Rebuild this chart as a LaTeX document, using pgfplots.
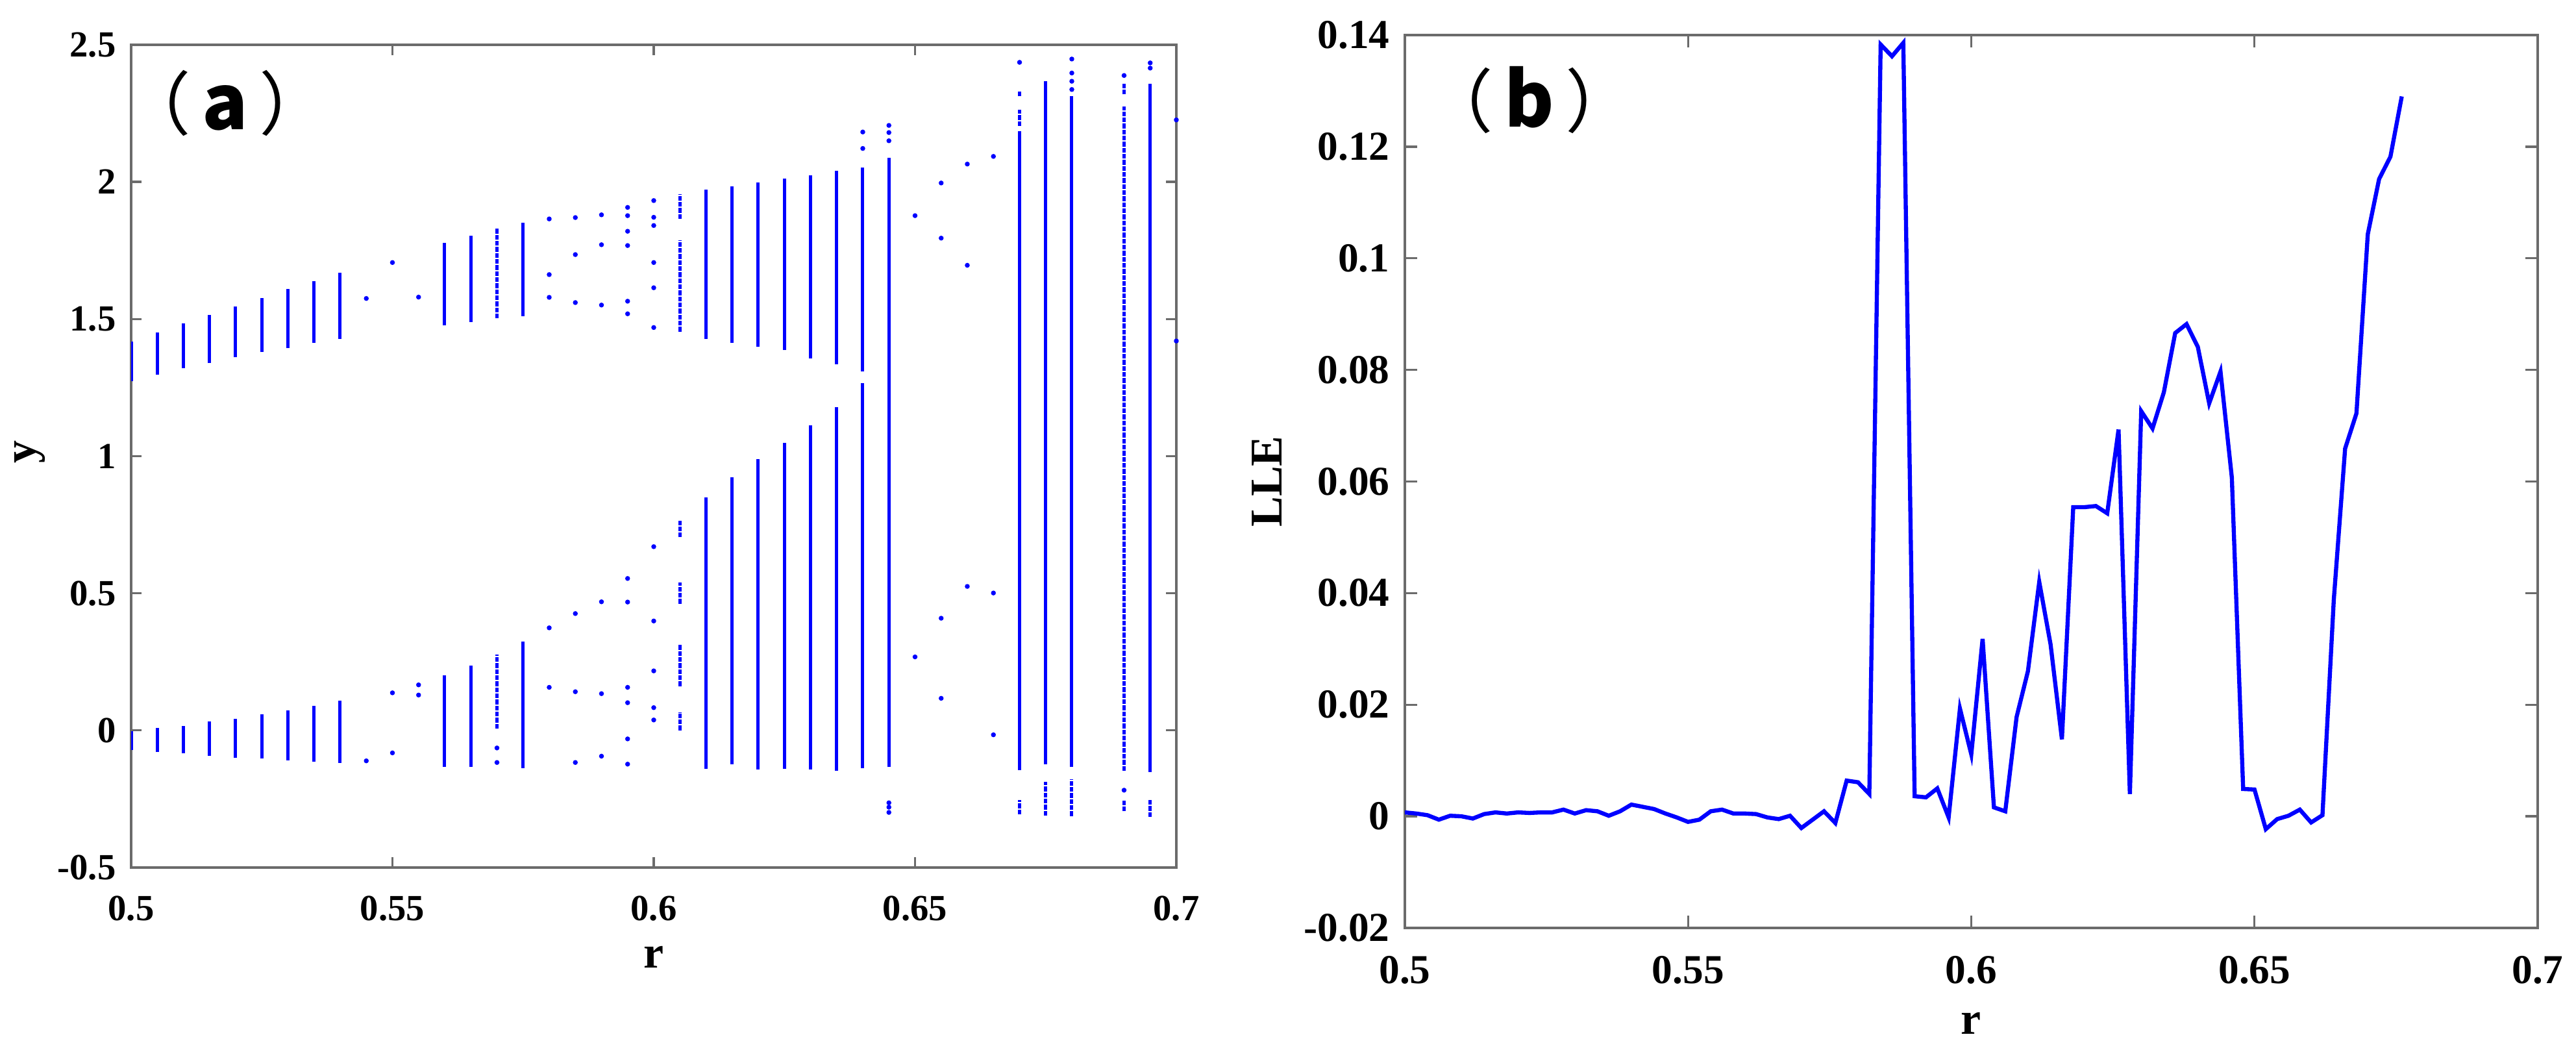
\documentclass[border=0pt]{standalone}
\usepackage{fontspec}
\setmainfont{Liberation Serif}
\newfontfamily\cjk{Noto Sans CJK SC}
\usepackage{pgfplots}
\pgfplotsset{compat=1.18}
\definecolor{axgray}{gray}{0.42}

% panel tag: thin full-width brackets round a heavy letter
\newcommand{\tag}[1]{{\cjk\fontsize{16}{18}\selectfont （}\hspace{2.6pt}%
  {\cjk\bfseries\fontsize{17.5}{18}\selectfont #1}\hspace{2.6pt}%
  {\cjk\fontsize{16}{18}\selectfont ）}}

\pgfplotsset{
  panel/.style={
    scale only axis,
    anchor=south west,
    axis line style={axgray, line width=0.6pt},
    tick style={axgray, line width=0.5pt},
    tick align=inside,
    xmin=0.5, xmax=0.7,
    xtick={0.5,0.55,0.6,0.65,0.7},
    xticklabels={0.5,0.55,0.6,0.65,0.7},
    scaled ticks=false,
    minor tick num=0,
    xticklabel style={yshift=-3pt},
    label style={font=\bfseries\fontsize{10.5}{12}\selectfont},
  }
}

\begin{document}
\begin{tikzpicture}
\path[use as bounding box] (0,0) rectangle (595.2pt,245.55pt);

% (a) bifurcation diagram
\begin{axis}[panel,
  at={(30.3pt,45.15pt)}, width=241.5pt, height=190.05pt,
  ymin=-0.5, ymax=2.5,
  ytick={-0.5,0,0.5,1,1.5,2,2.5},
  yticklabels={-0.5,0,0.5,1,1.5,2,2.5},
  major tick length=2.4pt,
  ticklabel style={font=\bfseries\fontsize{8.5}{10}\selectfont},
  xlabel={r}, ylabel={y},
  xlabel style={at={(axis description cs:0.5,-0.109)}, anchor=center},
  ylabel style={at={(axis description cs:-0.097,0.505)}, anchor=center},
]
% solid branches
\addplot[blue, line width=0.75pt, unbounded coords=jump] coordinates {
(0.5,1.273)(0.5,1.418)(0.5,nan)(0.5,-0.071)(0.5,-0.004)(0.5,nan)
(0.505,1.297)(0.505,1.450)(0.505,nan)(0.505,-0.079)(0.505,0.009)(0.505,nan)
(0.51,1.321)(0.51,1.483)(0.51,nan)(0.51,-0.084)(0.51,0.017)(0.51,nan)
(0.515,1.339)(0.515,1.515)(0.515,nan)(0.515,-0.092)(0.515,0.032)(0.515,nan)
(0.52,1.360)(0.52,1.546)(0.52,nan)(0.52,-0.099)(0.52,0.043)(0.52,nan)
(0.525,1.379)(0.525,1.577)(0.525,nan)(0.525,-0.103)(0.525,0.058)(0.525,nan)
(0.53,1.394)(0.53,1.609)(0.53,nan)(0.53,-0.109)(0.53,0.074)(0.53,nan)
(0.535,1.412)(0.535,1.638)(0.535,nan)(0.535,-0.113)(0.535,0.090)(0.535,nan)
(0.54,1.427)(0.54,1.668)(0.54,nan)(0.54,-0.118)(0.54,0.109)(0.54,nan)
(0.56,1.476)(0.56,1.778)(0.56,nan)(0.56,-0.133)(0.56,0.201)(0.56,nan)
(0.565,1.490)(0.565,1.804)(0.565,nan)(0.565,-0.134)(0.565,0.237)(0.565,nan)
(0.575,1.511)(0.575,1.852)(0.575,nan)(0.575,-0.137)(0.575,0.324)(0.575,nan)
(0.61,1.427)(0.61,1.972)(0.61,nan)(0.61,-0.141)(0.61,0.850)(0.61,nan)
(0.615,1.412)(0.615,1.984)(0.615,nan)(0.615,-0.123)(0.615,0.924)(0.615,nan)
(0.62,1.400)(0.62,1.998)(0.62,nan)(0.62,-0.143)(0.62,0.989)(0.62,nan)
(0.625,1.388)(0.625,2.013)(0.625,nan)(0.625,-0.141)(0.625,1.049)(0.625,nan)
(0.63,1.357)(0.63,2.025)(0.63,nan)(0.63,-0.143)(0.63,1.112)(0.63,nan)
(0.635,1.336)(0.635,2.040)(0.635,nan)(0.635,-0.147)(0.635,1.178)(0.635,nan)
(0.64,1.309)(0.64,2.053)(0.64,nan)(0.64,-0.138)(0.64,1.267)(0.64,nan)
(0.645,-0.134)(0.645,2.089)(0.645,nan)
(0.67,-0.145)(0.67,2.186)(0.67,nan)
(0.675,-0.123)(0.675,2.367)(0.675,nan)
(0.68,-0.134)(0.68,2.313)(0.68,nan)
(0.695,-0.151)(0.695,2.359)
};
% speckled branches
\addplot[blue, line width=0.75pt, dash pattern=on 1.1pt off 0.3pt, unbounded coords=jump] coordinates {
(0.57,1.502)(0.57,1.829)(0.57,nan)(0.57,0.007)(0.57,0.277)(0.57,nan)
(0.605,1.865)(0.605,1.956)(0.605,nan)(0.605,1.454)(0.605,1.787)(0.605,nan)
(0.605,0.704)(0.605,0.764)(0.605,nan)(0.605,0.462)(0.605,0.540)(0.605,nan)
(0.605,0.161)(0.605,0.315)(0.605,nan)(0.605,0.000)(0.605,0.067)(0.605,nan)
(0.67,2.204)(0.67,2.264)(0.67,nan)(0.67,2.312)(0.67,2.334)(0.67,nan)
(0.67,-0.306)(0.67,-0.255)(0.67,nan)
(0.675,-0.311)(0.675,-0.188)(0.675,nan)
(0.68,-0.312)(0.68,-0.177)(0.68,nan)
(0.69,-0.147)(0.69,2.274)(0.69,nan)(0.69,2.319)(0.69,2.361)(0.69,nan)
(0.69,-0.295)(0.69,-0.255)(0.69,nan)
(0.695,-0.315)(0.695,-0.251)
};
% isolated points
\addplot[only marks, mark=*, mark size=0.35pt, blue] coordinates {
(0.545,1.575)(0.545,-0.111)
(0.55,1.706)(0.55,0.137)(0.55,-0.082)
(0.555,1.58)(0.555,0.166)(0.555,0.129)
(0.57,-0.064)(0.57,-0.117)
(0.58,1.865)(0.58,1.662)(0.58,1.579)(0.58,0.374)(0.58,0.157)
(0.585,1.87)(0.585,1.735)(0.585,1.56)(0.585,0.426)(0.585,0.141)(0.585,-0.117)
(0.59,1.88)(0.59,1.771)(0.59,1.551)(0.59,0.469)(0.59,0.134)(0.59,-0.094)
(0.595,1.907)(0.595,1.877)(0.595,1.82)(0.595,1.768)(0.595,1.565)(0.595,1.519)
(0.595,0.554)(0.595,0.468)(0.595,0.157)(0.595,0.101)(0.595,-0.031)(0.595,-0.123)
(0.6,1.932)(0.6,1.871)(0.6,1.841)(0.6,1.706)(0.6,1.614)(0.6,1.469)
(0.6,0.67)(0.6,0.399)(0.6,0.217)(0.6,0.083)(0.6,0.038)
(0.64,2.182)(0.64,2.122)
(0.645,2.206)(0.645,2.18)(0.645,2.15)(0.645,-0.264)(0.645,-0.28)(0.645,-0.299)
(0.65,1.877)(0.65,0.268)
(0.655,1.996)(0.655,1.795)(0.655,0.409)(0.655,0.117)
(0.66,2.065)(0.66,1.696)(0.66,0.525)
(0.665,2.093)(0.665,0.501)(0.665,-0.016)
(0.67,2.436)
(0.68,2.448)(0.68,2.397)(0.68,2.367)(0.68,2.337)
(0.69,2.388)(0.69,-0.218)
(0.695,2.434)(0.695,2.415)
(0.7,2.226)(0.7,1.42)
};
\node at (axis cs:0.518,2.287) {\tag{a}};
\end{axis}

% (b) largest Lyapunov exponent
\begin{axis}[panel,
  at={(324.6pt,31.2pt)}, width=261.75pt, height=206.25pt,
  ymin=-0.02, ymax=0.14,
  ytick={-0.02,0,0.02,0.04,0.06,0.08,0.1,0.12,0.14},
  yticklabels={-0.02,0,0.02,0.04,0.06,0.08,0.1,0.12,0.14},
  major tick length=2.85pt,
  ticklabel style={font=\bfseries\fontsize{9.5}{11}\selectfont},
  xlabel={r}, ylabel={LLE},
  xlabel style={at={(axis description cs:0.5,-0.107)}, anchor=center},
  ylabel style={at={(axis description cs:-0.1215,0.5)}, anchor=center},
]
\addplot[blue, line width=0.95pt] coordinates {
(0.500,0.0007)(0.502,0.0005)(0.504,0.0002)(0.506,-0.0006)(0.508,0.0001)
(0.510,0.0000)(0.512,-0.0004)(0.514,0.0004)(0.516,0.0007)(0.518,0.0005)
(0.520,0.0007)(0.522,0.0006)(0.524,0.0007)(0.526,0.0007)(0.528,0.0012)
(0.530,0.0005)(0.532,0.0011)(0.534,0.0009)(0.536,0.0001)(0.538,0.0009)
(0.540,0.0021)(0.542,0.0017)(0.544,0.0013)(0.546,0.0005)(0.548,-0.0002)
(0.550,-0.0010)(0.552,-0.0006)(0.554,0.0009)(0.556,0.0012)(0.558,0.0005)
(0.560,0.0005)(0.562,0.0004)(0.564,-0.0002)(0.566,-0.0005)(0.568,0.0001)
(0.570,-0.0021)(0.572,-0.0006)(0.574,0.0009)(0.576,-0.0012)(0.578,0.0064)
(0.580,0.0061)(0.582,0.0040)(0.584,0.1383)(0.586,0.1362)(0.588,0.1386)
(0.590,0.0036)(0.592,0.0034)(0.594,0.0050)(0.596,-0.0002)(0.598,0.0193)
(0.600,0.0111)(0.602,0.0318)(0.604,0.0016)(0.606,0.0009)(0.608,0.0178)
(0.610,0.0260)(0.612,0.0420)(0.614,0.0308)(0.616,0.0138)(0.618,0.0554)
(0.620,0.0554)(0.622,0.0556)(0.624,0.0543)(0.626,0.0693)(0.628,0.0040)
(0.630,0.0726)(0.632,0.0695)(0.634,0.0760)(0.636,0.0866)(0.638,0.0882)
(0.640,0.0841)(0.642,0.0740)(0.644,0.0797)(0.646,0.0607)(0.648,0.0049)
(0.650,0.0048)(0.652,-0.0023)(0.654,-0.0005)(0.656,0.0001)(0.658,0.0012)
(0.660,-0.0011)(0.662,0.0002)(0.664,0.0388)(0.666,0.0659)(0.668,0.0722)
(0.670,0.1043)(0.672,0.1142)(0.674,0.1182)(0.676,0.1290)
};
\node at (axis cs:0.522,0.1284) {\tag{b}};
\end{axis}
\end{tikzpicture}
\end{document}
